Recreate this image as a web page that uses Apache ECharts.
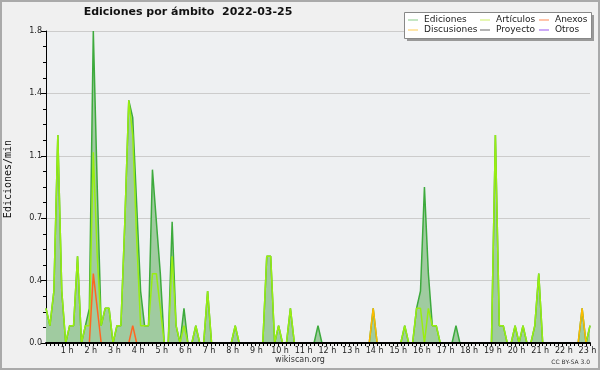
<!DOCTYPE html>
<html><head><meta charset="utf-8">
<script src="https://cdn.jsdelivr.net/npm/echarts@6/dist/echarts.min.js"></script>
<style>html,body{margin:0;padding:0;background:#f0f0f0}#c{width:600px;height:370px}</style>
</head><body><div id="c"></div>
<script>
// 10-minute bins from 00:00 to 23:00
const times = [];
for (let i = 0; i <= 138; i++) { const m = i * 10; times.push(String(Math.floor(m / 60)).padStart(2, '0') + ':' + String(m % 60).padStart(2, '0')); }
const hourLabels = ['1 h','2 h','3 h','4 h','5 h','6 h','7 h','8 h','9 h','10 h','11 h','12 h','13 h','14 h','15 h','16 h','17 h','18 h','19 h','20 h','21 h','22 h','23 h'];
const yTickLabels = ['0.0','0.4','0.7','1.1','1.4','1.8'];

const ediciones = [
0.2,0.1,0.3,1.2,0.3,0,
0.1,0.1,0.5,0,0.1,0.2,
1.8,0.9,0.1,0.2,0.2,0,
0.1,0.1,0.7,1.4,1.3,0.8,
0.3,0.1,0.1,1.0,0.7,0.4,
0,0,0.7,0.1,0,0.2,
0,0,0.1,0,0,0.3,
0,0,0,0,0,0,
0.1,0,0,0,0,0,
0,0,0.5,0.5,0,0.1,
0,0,0.2,0,0,0,
0,0,0,0.1,0,0,
0,0,0,0,0,0,
0,0,0,0,0,0.2,
0,0,0,0,0,0,
0,0.1,0,0,0.2,0.3,
0.9,0.4,0.1,0.1,0,0,
0,0,0.1,0,0,0,
0,0,0,0,0,0,
1.2,0.1,0.1,0,0,0.1,
0,0.1,0,0,0.1,0.4,
0,0,0,0,0,0,
0,0,0,0,0.2,0,
0.1];
const articulos = [
0.2,0.1,0.3,1.2,0.3,0,
0.1,0.1,0.5,0,0.1,0.1,
1.1,0.5,0.1,0.2,0.2,0,
0.1,0.1,0.7,1.4,1.2,0.6,
0.1,0.1,0.1,0.4,0.4,0.2,
0,0,0.5,0.1,0,0.1,
0,0,0.1,0,0,0.3,
0,0,0,0,0,0,
0.1,0,0,0,0,0,
0,0,0.5,0.5,0,0.1,
0,0,0.2,0,0,0,
0,0,0,0,0,0,
0,0,0,0,0,0,
0,0,0,0,0,0,
0,0,0,0,0,0,
0,0.1,0,0,0.2,0.2,
0,0.2,0.1,0.1,0,0,
0,0,0,0,0,0,
0,0,0,0,0,0,
1.2,0.1,0.1,0,0,0.1,
0,0.1,0,0,0.1,0.4,
0,0,0,0,0,0,
0,0,0,0,0,0,
0.1];
const anexos = [
0,0,0,0,0,0,
0,0,0,0,0,0,
0.4,0.2,0,0,0,0,
0,0,0,0,0.1,0,
0,0,0,0,0,0,
0,0,0,0,0,0,
0,0,0,0,0,0,
0,0,0,0,0,0,
0,0,0,0,0,0,
0,0,0,0,0,0,
0,0,0,0,0,0,
0,0,0,0,0,0,
0,0,0,0,0,0,
0,0,0,0,0,0,
0,0,0,0,0,0,
0,0,0,0,0,0,
0,0,0,0,0,0,
0,0,0,0,0,0,
0,0,0,0,0,0,
0,0,0,0,0,0,
0,0,0,0,0,0,
0,0,0,0,0,0,
0,0,0,0,0,0,
0];
const discusiones = [
0,0,0,0,0,0,
0,0,0,0,0,0,
0,0,0,0,0,0,
0,0,0,0,0,0,
0,0,0,0,0,0,
0,0,0,0,0,0,
0,0,0,0,0,0,
0,0,0,0,0,0,
0,0,0,0,0,0,
0,0,0,0,0,0,
0,0,0,0,0,0,
0,0,0,0,0,0,
0,0,0,0,0,0,
0,0,0,0,0,0.2,
0,0,0,0,0,0,
0,0,0,0,0,0,
0,0,0,0,0,0,
0,0,0,0,0,0,
0,0,0,0,0,0,
0,0,0,0,0,0,
0,0,0,0,0,0,
0,0,0,0,0,0,
0,0,0,0,0.2,0,
0];
const proyecto = new Array(139).fill(0);
const otros = new Array(139).fill(0);

const FONT = 'DejaVu Sans';
const chart = echarts.init(document.getElementById('c'), null, {renderer: 'canvas'});
const legendCommon = {
  orient: 'vertical', top: 15, itemWidth: 10, itemHeight: 1, itemGap: 0, icon: 'rect',
  selectedMode: false, padding: 0,
  textStyle: {fontFamily: FONT, fontSize: 9, color: '#222', lineHeight: 10, padding: [0, 0, 0, 1]}
};
function li(name, color) { return {name: name, itemStyle: {color: color, borderWidth: 0}}; }
chart.setOption({
  backgroundColor: '#f0f0f0',
  animation: false,
  title: [
    {text: 'Ediciones por ámbito  2022-03-25', left: 188, top: 7, textAlign: 'center', padding: 0,
     textStyle: {fontFamily: FONT, fontSize: 11, fontWeight: 'bold', color: '#111'}},
    {text: 'wikiscan.org', left: 300, top: 356, textAlign: 'center', padding: 0,
     textStyle: {fontFamily: FONT, fontSize: 8, fontWeight: 'normal', color: '#333'}},
    {text: 'CC BY-SA 3.0', right: 10, top: 359, padding: 0,
     textStyle: {fontFamily: FONT, fontSize: 6, fontWeight: 'normal', color: '#333'}}
  ],
  graphic: [
    {type: 'rect', shape: {x: 1, y: 1, width: 598, height: 368}, style: {fill: 'none', stroke: '#aaaaaa', lineWidth: 2}, z: 100, silent: true},
    {type: 'rect', shape: {x: 407, y: 15, width: 187, height: 26}, style: {fill: '#999999'}, z: 50, silent: true},
    {type: 'rect', shape: {x: 404.5, y: 12.5, width: 187, height: 26}, style: {fill: '#ffffff', stroke: '#888888', lineWidth: 1}, z: 51, silent: true}
  ],
  legend: [
    Object.assign({}, legendCommon, {left: 408, z: 60, data: [li('Ediciones', '#88cc88'), li('Discusiones', '#ffcc55')]}),
    Object.assign({}, legendCommon, {left: 480, z: 60, data: [li('Artículos', '#ccee66'), li('Proyecto', '#666666')]}),
    Object.assign({}, legendCommon, {left: 539, z: 60, data: [li('Anexos', '#ff8855'), li('Otros', '#9955ee')]})
  ],
  grid: {left: 46, right: 10, top: 31, bottom: 27, show: true, backgroundColor: '#eef0f2', borderWidth: 0,
         outerBoundsMode: 'none', containLabel: false},
  xAxis: {
    type: 'category', data: times, boundaryGap: false, z: 10,
    axisLine: {lineStyle: {color: '#000', width: 2}},
    axisTick: {show: true, interval: 0, length: 3, lineStyle: {color: '#000'}},
    axisLabel: {
      interval: function (idx) { return idx > 0 && idx % 6 === 0; },
      formatter: function (v, idx) { return hourLabels[idx / 6 - 1]; },
      fontFamily: FONT, fontSize: 8, color: '#222', margin: 4, padding: [0, 5, 0, 0]
    },
    splitLine: {show: false}
  },
  yAxis: {
    type: 'value', min: 0, max: 1.8, interval: 0.36,
    name: 'Ediciones/min', nameLocation: 'middle', nameGap: 33,
    nameTextStyle: {fontFamily: 'DejaVu Sans Mono', fontSize: 10, color: '#111', padding: [0, 0, 0, 16]},
    axisLine: {show: true, lineStyle: {color: '#000', width: 1}},
    axisTick: {show: true, length: 5, lineStyle: {color: '#000'}},
    minorTick: {show: true, splitNumber: 4, length: 3, lineStyle: {color: '#000'}},
    axisLabel: {
      formatter: function (v) { return yTickLabels[Math.round(v / 0.36)]; },
      fontFamily: FONT, fontSize: 8, color: '#222', margin: 4
    },
    splitLine: {show: true, lineStyle: {color: '#cccccc', width: 1}}
  },
  series: [
    {name: 'Ediciones', type: 'line', data: ediciones, showSymbol: false, smooth: false,
     itemStyle: {color: '#88cc88'}, lineStyle: {color: '#3daa3d', width: 1.5},
     areaStyle: {color: '#a0cba0', opacity: 1}},
    {name: 'Artículos', type: 'line', data: articulos, showSymbol: false,
     itemStyle: {color: '#ccee66'}, lineStyle: {color: '#99ee11', width: 1.5}},
    {name: 'Anexos', type: 'line', data: anexos, showSymbol: false,
     itemStyle: {color: '#ff8855'}, lineStyle: {color: '#ff6622', width: 1.5}},
    {name: 'Discusiones', type: 'line', data: discusiones, showSymbol: false,
     itemStyle: {color: '#ffcc55'}, lineStyle: {color: '#ffbb00', width: 1.5}},
    {name: 'Proyecto', type: 'line', data: proyecto, showSymbol: false,
     itemStyle: {color: '#666666'}, lineStyle: {color: '#555555', width: 1}},
    {name: 'Otros', type: 'line', data: otros, showSymbol: false,
     itemStyle: {color: '#9955ee'}, lineStyle: {color: '#8844ee', width: 1}}
  ]
});
</script></body></html>
